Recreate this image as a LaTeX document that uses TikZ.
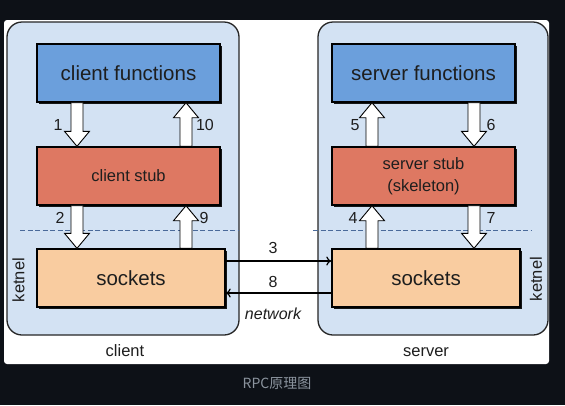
\documentclass[tikz,border=0pt]{standalone}
\usepackage{fontspec}
\setmainfont{Liberation Sans}
\newfontfamily\cjk{Noto Sans CJK SC}
\usetikzlibrary{arrows.meta,positioning,shadows,calc}

\definecolor{pagebg}{HTML}{0D1117}
\definecolor{hostblue}{HTML}{D3E2F3}
\definecolor{funcblue}{HTML}{6B9FDC}
\definecolor{stubred}{HTML}{DE7862}
\definecolor{sockpeach}{HTML}{F9CCA0}
\definecolor{kernline}{HTML}{4A6A9A}
\definecolor{capgray}{HTML}{8B949E}
\definecolor{inkgray}{HTML}{1E1E1E}

\newcommand{\bigtxt}{\fontsize{20.5}{24}\selectfont}
\newcommand{\midtxt}{\fontsize{16.5}{22}\selectfont}

\tikzset{
  host/.style={draw=black!85, line width=1.3pt, fill=hostblue, rounded corners=15pt, inner sep=0pt},
  layer/.style={draw=black, line width=1.4pt, minimum width=183pt, minimum height=58pt,
    inner sep=0pt, align=center, text=inkgray,
    drop shadow={shadow xshift=1.6pt, shadow yshift=-1.6pt, opacity=0.9, fill=black}},
  blockarrow/.style={draw=black, line width=0.9pt, fill=white, line join=miter,
    to path={let \p1=(\tikztostart), \p2=(\tikztotarget),
      \n1={ifthenelse(\y2>\y1,1,-1)} in
      (\x1-6pt,\y1) -- (\x1-6pt,\y2-\n1*15pt) -- (\x1-12.5pt,\y2-\n1*15pt) -- (\x2,\y2)
      -- (\x1+12.5pt,\y2-\n1*15pt) -- (\x1+6pt,\y2-\n1*15pt) -- (\x1+6pt,\y1) -- cycle}},
  num/.style={font=\fontsize{16}{18}\selectfont, text=inkgray},
  net/.style={draw=black, line width=1.2pt, -{To[length=5pt,width=9pt]}},
  kernel/.style={draw=kernline, line width=1pt, dash pattern=on 5pt off 2.5pt}
}

\begin{document}
\begin{tikzpicture}[x=1pt,y=-1pt,node distance=100pt,on grid]
  \useasboundingbox (0,0) rectangle (565,405);
  \fill[pagebg] (0,0) rectangle (565,405);
  \fill[white, rounded corners=3pt] (4,20) rectangle (549,364);

  % the two hosts
  \node[host, minimum width=232pt, minimum height=313pt] (client) at (123,178.5) {};
  \node[host, minimum width=230pt, minimum height=313pt] (server) at (433,178.5) {};
  \node[font=\midtxt, text=inkgray] (clientlbl) at (125,351) {client};
  \node[font=\midtxt, text=inkgray] (serverlbl) at (426,352) {server};

  \draw[kernel] (20,230) -- (239,230);
  \draw[kernel] (313,230) -- (532,230);

  % client side
  \node[layer, fill=funcblue, font=\bigtxt] (cf) at (128.5,73) {client functions};
  \node[layer, fill=stubred, font=\midtxt, below=103pt of cf] (cs) {client stub};
  \node[layer, fill=sockpeach, font=\bigtxt, minimum width=188pt,
        below right=102pt and 2.5pt of cs] (cso) {sockets};

  % server side
  \node[layer, fill=funcblue, font=\bigtxt] (sf) at (423.5,73) {server functions};
  \node[layer, fill=stubred, font=\midtxt, below=103pt of sf] (ss) {server stub\\(skeleton)};
  \node[layer, fill=sockpeach, font=\bigtxt, minimum width=188pt,
        below right=102pt and 2.5pt of ss] (sso) {sockets};

  \node[font=\midtxt, text=inkgray, rotate=90] (ck) at (18.5,280) {ketnel};
  \node[font=\midtxt, text=inkgray, rotate=90] (sk) at (536,279) {ketnel};

  % arrow columns
  \coordinate (cdown) at (77,0);
  \coordinate (cup)   at (186,0);
  \coordinate (sup)   at (372,0);
  \coordinate (sdown) at (474,0);

  \draw[blockarrow] (cf.south -| cdown) to (cs.north -| cdown);
  \draw[blockarrow] (cs.south -| cdown) to (cso.north -| cdown);
  \draw[blockarrow] (cso.north -| cup) to (cs.south -| cup);
  \draw[blockarrow] (cs.north -| cup) to (cf.south -| cup);
  \draw[blockarrow] (ss.north -| sup) to (sf.south -| sup);
  \draw[blockarrow] (sso.north -| sup) to (ss.south -| sup);
  \draw[blockarrow] (sf.south -| sdown) to (ss.north -| sdown);
  \draw[blockarrow] (ss.south -| sdown) to (sso.north -| sdown);

  \node[num] at (58,125) {1};
  \node[num] at (60,218) {2};
  \node[num] at (353,218) {4};
  \node[num] at (355,125) {5};
  \node[num] at (491,125) {6};
  \node[num] at (491,218) {7};
  \node[num] at (204,218) {9};
  \node[num] at (205,125) {10};

  % network
  \draw[net] ([yshift=17pt]cso.east) -- ([yshift=17pt]sso.west);
  \draw[net] ([yshift=-15pt]sso.west) -- ([yshift=-15pt]cso.east);
  \node[num] at (273,248) {3};
  \node[num] at (273,282) {8};
  \node[font=\fontsize{16}{18}\selectfont\itshape, text=inkgray] (netlbl) at (273,314) {network};

  \node[text=capgray, font=\cjk\fontsize{14}{16}\selectfont] (caption) at (277,383) {RPC原理图};
\end{tikzpicture}
\end{document}
